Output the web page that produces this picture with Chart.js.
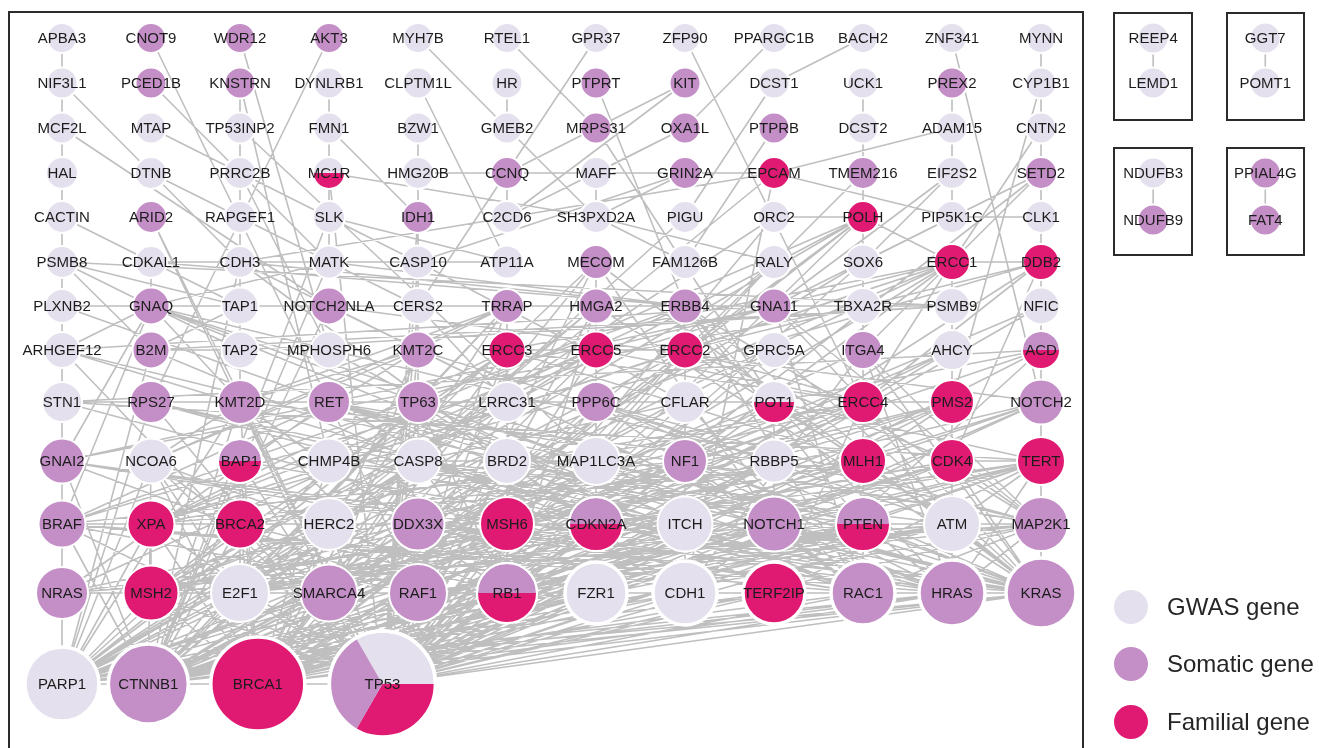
<!DOCTYPE html>
<html lang="en">
<head>
<meta charset="UTF-8">
<title>Gene network</title>
<script src="https://cdn.jsdelivr.net/npm/chart.js"></script>
<style>
    html, body { margin: 0; padding: 0; background: #fff; }
    .wrap { position: relative; width: 1319px; height: 748px; }
</style>
</head>
<body>
<div class="wrap"><canvas id="rede"></canvas></div>
<script>
    // genes, row by row (grid layout, sorted by degree)
    const geneRows = [
        ['APBA3','CNOT9','WDR12','AKT3','MYH7B','RTEL1','GPR37','ZFP90','PPARGC1B','BACH2','ZNF341','MYNN'],
        ['NIF3L1','PCED1B','KNSTRN','DYNLRB1','CLPTM1L','HR','PTPRT','KIT','DCST1','UCK1','PREX2','CYP1B1'],
        ['MCF2L','MTAP','TP53INP2','FMN1','BZW1','GMEB2','MRPS31','OXA1L','PTPRB','DCST2','ADAM15','CNTN2'],
        ['HAL','DTNB','PRRC2B','MC1R','HMG20B','CCNQ','MAFF','GRIN2A','EPCAM','TMEM216','EIF2S2','SETD2'],
        ['CACTIN','ARID2','RAPGEF1','SLK','IDH1','C2CD6','SH3PXD2A','PIGU','ORC2','POLH','PIP5K1C','CLK1'],
        ['PSMB8','CDKAL1','CDH3','MATK','CASP10','ATP11A','MECOM','FAM126B','RALY','SOX6','ERCC1','DDB2'],
        ['PLXNB2','GNAQ','TAP1','NOTCH2NLA','CERS2','TRRAP','HMGA2','ERBB4','GNA11','TBXA2R','PSMB9','NFIC'],
        ['ARHGEF12','B2M','TAP2','MPHOSPH6','KMT2C','ERCC3','ERCC5','ERCC2','GPRC5A','ITGA4','AHCY','ACD'],
        ['STN1','RPS27','KMT2D','RET','TP63','LRRC31','PPP6C','CFLAR','POT1','ERCC4','PMS2','NOTCH2'],
        ['GNAI2','NCOA6','BAP1','CHMP4B','CASP8','BRD2','MAP1LC3A','NF1','RBBP5','MLH1','CDK4','TERT'],
        ['BRAF','XPA','BRCA2','HERC2','DDX3X','MSH6','CDKN2A','ITCH','NOTCH1','PTEN','ATM','MAP2K1'],
        ['NRAS','MSH2','E2F1','SMARCA4','RAF1','RB1','FZR1','CDH1','TERF2IP','RAC1','HRAS','KRAS'],
        ['PARP1','CTNNB1','BRCA1','TP53']
    ];

    // G = GWAS, S = somatic, F = familial; combined codes are split nodes
    const geneTypes = [
        ['G','S','S','S','G','G','G','G','G','G','G','G'],
        ['G','S','S','G','G','G','S','S','G','G','S','G'],
        ['G','G','G','G','G','G','S','S','S','G','G','G'],
        ['G','G','G','GF','G','S','G','S','F','S','G','S'],
        ['G','S','G','G','S','G','G','G','G','F','G','G'],
        ['G','G','G','G','G','G','S','G','G','G','F','F'],
        ['G','S','G','S','G','S','S','S','S','G','G','G'],
        ['G','S','G','G','S','F','F','F','G','S','G','SF'],
        ['G','S','S','S','S','G','S','G','GF','F','F','S'],
        ['S','G','SF','G','G','G','G','S','G','F','F','F'],
        ['S','F','F','G','S','F','SF','G','S','SF','G','S'],
        ['S','F','G','S','S','SF','G','G','F','S','S','S'],
        ['G','S','F','GSF']
    ];

    // node size (degree) per gene
    const nodeSize = [
        [15,15,15,15,15,15,15,15,15,15,15,15],
        [15.5,15.5,15.5,15.5,15.5,15.5,15.5,15.5,15.5,15.5,15.5,15.5],
        [15.5,15.5,15.5,15.5,15.5,15.5,15.5,15.5,15.5,15.5,15.5,15.5],
        [16,16,16,16,16,16,16,16,16,16,16,16],
        [16,16,16,16,16,16,16,16,16,16,16,16],
        [16,16,16,16.5,16.5,16.5,17,17,17,17.5,18,18],
        [17,18.5,18.5,18.5,18,17,17.5,17.5,17.5,18,18,18.5],
        [18,18.5,18.5,18.5,18.5,18.5,18.5,18.5,18,19,20,19],
        [20,21,22,21,21,20,20,21,21,21,22,22.5],
        [22.5,22.5,22,22.5,22.5,23,24,22,21.5,23,22,24],
        [23.5,23.5,24.5,26,26.5,27,27,27.5,27.5,27,28,27],
        [26,27.5,29,28.5,29,30,31,32,31,32,33,35],
        [37,40,47,53]
    ];

    // separate small components
    const sideGenes = ['REEP4','LEMD1','GGT7','POMT1','NDUFB3','NDUFB9','PPIAL4G','FAT4'];
    const sideTypes = ['G','G','G','G','G','S','S','S'];

    const legendLabels = ['GWAS gene', 'Somatic gene', 'Familial gene'];

    // interactions: gene: neighbours
    const links = `
APBA3: NIF3L1
NIF3L1: MCF2L CDH3
MCF2L: HAL NOTCH2NLA
HAL: CACTIN
CACTIN: PSMB8 TAP1
PSMB8: PLXNB2 TAP1 TAP2 PSMB9 B2M
PLXNB2: ARHGEF12 RAC1 ERBB4 GNAQ
ARHGEF12: STN1 GNA11 GNAQ RAC1 KRAS TP53
STN1: GNAI2 POT1 ACD TERF2IP TERT PARP1
GNAI2: BRAF GNAQ GNA11 KRAS HRAS RAC1 RAF1 CTNNB1 TBXA2R PARP1
BRAF: NRAS MAP2K1 KRAS HRAS RAF1 RAC1 CDKN2A PTEN TP53 CTNNB1 XPA
NRAS: PARP1 KRAS HRAS RAF1 MAP2K1 RAC1 PTEN
CNOT9: RET
WDR12: MPHOSPH6
AKT3: RPS27
MYH7B: GMEB2
RTEL1: MRPS31
GPR37: CERS2
ZFP90: ERCC4
PPARGC1B: OXA1L
BACH2: DCST1
ZNF341: NOTCH2
MYNN: CYP1B1
PCED1B: MATK
KNSTRN: CHMP4B TAP2
DYNLRB1: FMN1
CLPTM1L: ATP11A
HR: GMEB2
PTPRT: ERBB4
KIT: CCNQ C2CD6
DCST1: PIGU
UCK1: DCST2
PREX2: ADAM15
CYP1B1: CNTN2 PMS2
MTAP: CASP10
TP53INP2: MAP1LC3A
FMN1: MC1R IDH1
BZW1: HMG20B
GMEB2: SH3PXD2A
MRPS31: POT1
OXA1L: MAFF C2CD6
PTPRB: FAM126B
DCST2: ITGA4
ADAM15: EIF2S2 EPCAM
CNTN2: SETD2 ERCC1
DTNB: CERS2
PRRC2B: MPHOSPH6
MC1R: SLK SH3PXD2A TP53
HMG20B: CERS2
CCNQ: C2CD6
MAFF: SH3PXD2A
GRIN2A: SH3PXD2A CASP10
EPCAM: HMG20B CTNNB1 CDH1 CDH3
TMEM216: RALY
EIF2S2: PIP5K1C SOX6 GNA11
SETD2: CLK1 SOX6 GNA11 ITGA4 TP53
ARID2: SMARCA4 TP53
RAPGEF1: CDH3 KMT2D
SLK: MATK ATP11A CTNNB1
IDH1: CASP10 TP53
SH3PXD2A: FAM126B RALY
PIGU: CASP8
ORC2: POLH PARP1 TP53
POLH: ERCC1 XPA ERCC2 MLH1 MSH2 TP53 BRCA1 PARP1
PIP5K1C: CLK1 EPCAM
CLK1: DDB2
CDKAL1: GNAQ MATK ERBB4
CDH3: TAP1 CTNNB1 CDH1 NOTCH1 ERBB4
MATK: CASP10 ERBB4 GNAQ CTNNB1
CASP10: CASP8 CFLAR TP53 ATP11A
MECOM: CTNNB1 TP53 NOTCH1 HMGA2 SMARCA4 KRAS
RALY: TP53 BRCA1 ERCC2
SOX6: CTNNB1 TP53
ERCC1: ERCC4 XPA ERCC2 ERCC3 ERCC5 DDB2 PARP1 BRCA1 TP53 PMS2 MSH2
DDB2: ERCC2 XPA TP53 ERCC4 CDK4 NFIC
GNAQ: GNA11 RAC1 MAP2K1 KRAS BRAF RAF1 HRAS
TAP1: TAP2 B2M PSMB9
NOTCH2NLA: NOTCH2 NOTCH1 CTNNB1
CERS2: LRRC31 TP53
TRRAP: TP53 BRCA1 KMT2C KMT2D BRD2 E2F1 CTNNB1 NCOA6
HMGA2: CTNNB1 TP53 E2F1 RB1 CDKN2A KRAS
ERBB4: KRAS HRAS NRAS BRAF PTEN MAP2K1 RAC1 ITCH
GNA11: RAC1 MAP2K1 KRAS BRAF TBXA2R
TBXA2R: GNAQ RAC1
PSMB9: TAP2 B2M
NFIC: TP53 CTNNB1 TERT ACD
B2M: TAP2 CASP8 PARP1
MPHOSPH6: TERF2IP
KMT2C: KMT2D TP53 NCOA6 BAP1 BRCA1 SMARCA4 RBBP5
ERCC3: XPA ERCC2 ERCC5 ERCC4 TP53 BRCA1 PARP1 MSH2 MLH1
ERCC5: ERCC2 XPA ERCC4 TP53 BRCA1 PARP1 MSH2
ERCC2: XPA ERCC4 TP53 BRCA1 PARP1 MSH6 MLH1 CDK4
GPRC5A: TP53 KRAS CTNNB1
ITGA4: RAC1 KRAS HRAS CDH1 CTNNB1 MAP2K1 PTEN
AHCY: TP53 CTNNB1 BRCA1
ACD: POT1 TERF2IP TERT TP53 PARP1 NOTCH2
RPS27: TP53 HRAS KRAS CDKN2A PARP1
KMT2D: TP53 NCOA6 BRCA1 CTNNB1 SMARCA4 RB1 PARP1
RET: KRAS HRAS NRAS BRAF PTEN RAF1 MAP2K1 RAC1 CDH1
TP63: TP53 BRCA1 CTNNB1 ITCH NOTCH1 E2F1 RB1 CDKN2A PARP1
LRRC31: TP53 BRCA1
PPP6C: TP53 BRCA1 ATM MAP2K1 KRAS RAC1
CFLAR: CASP8 ITCH TP53 RAC1 CTNNB1
POT1: TERF2IP TERT ATM PARP1 BRCA1 TP53
ERCC4: XPA MSH2 BRCA1 PARP1 TP53 TERF2IP MLH1 PMS2 MSH6 BRCA2 ATM
PMS2: MLH1 MSH2 MSH6 BRCA1 TP53 PARP1 ATM CDK4
NOTCH2: NOTCH1 CTNNB1 TP53 ITCH KRAS E2F1 TERT
NCOA6: TP53 BRCA1 CTNNB1 E2F1 RB1 SMARCA4 PARP1
BAP1: BRCA1 TP53 CTNNB1 E2F1 CDKN2A BRCA2
CHMP4B: ITCH BRCA1 CTNNB1 PTEN MAP1LC3A
CASP8: TP53 BRCA1 CTNNB1 RB1 ITCH ATM RAC1 E2F1 CDKN2A
BRD2: TP53 BRCA1 E2F1 RB1 CTNNB1 SMARCA4 KRAS
MAP1LC3A: TP53 BRCA1 CTNNB1 PTEN
NF1: KRAS HRAS NRAS RAF1 BRAF MAP2K1 PTEN RAC1 TP53 CTNNB1
RBBP5: KMT2D TP53 BRCA1 E2F1 RB1
MLH1: MSH2 MSH6 BRCA1 TP53 PARP1 ATM BRCA2 XPA PTEN
CDK4: CDKN2A RB1 E2F1 TP53 BRCA1 CTNNB1 KRAS HRAS MAP2K1 TERT
TERT: TP53 CTNNB1 TERF2IP BRCA1 PARP1 ATM RB1 E2F1 KRAS HRAS MAP2K1 CDKN2A PTEN
XPA: MSH2 BRCA1 PARP1 TP53 ATM HERC2 BRCA2
BRCA2: BRCA1 TP53 PARP1 ATM MSH2 MSH6 RB1 E2F1 CTNNB1
HERC2: BRCA1 TP53 ITCH MSH2 CDKN2A PARP1
DDX3X: TP53 CTNNB1 KRAS CDH1 RAC1 BRCA1
MSH6: MSH2 BRCA1 PARP1 TP53 ATM PTEN
CDKN2A: RB1 E2F1 TP53 BRCA1 CTNNB1 KRAS HRAS NRAS PTEN MAP2K1 ATM
ITCH: TP53 NOTCH1 CTNNB1 PTEN BRCA1 CDH1
NOTCH1: CTNNB1 TP53 KRAS HRAS RAC1 CDH1 E2F1 PTEN BRCA1
PTEN: TP53 CTNNB1 KRAS HRAS RAC1 ATM MAP2K1 CDH1 RAF1 PARP1 BRCA1
ATM: TP53 BRCA1 PARP1 MSH2 E2F1 RB1 CTNNB1 KRAS
MAP2K1: KRAS HRAS RAF1 RAC1 TP53 CTNNB1
MSH2: BRCA1 TP53 PARP1 E2F1
E2F1: TP53 RB1 BRCA1 CTNNB1 PARP1 KRAS
SMARCA4: TP53 BRCA1 CTNNB1 RB1 KRAS
RAF1: KRAS HRAS RAC1 TP53 CTNNB1
RB1: TP53 BRCA1 CTNNB1 KRAS HRAS
FZR1: TP53 BRCA1 CTNNB1 CDH1 RB1
CDH1: CTNNB1 TP53 KRAS RAC1 HRAS BRCA1
TERF2IP: TP53 BRCA1 KRAS HRAS RAC1 PARP1
RAC1: KRAS HRAS CTNNB1 TP53
HRAS: KRAS CTNNB1 TP53 BRCA1 PARP1
KRAS: TP53 CTNNB1 BRCA1 PARP1
PARP1: CTNNB1 BRCA1 TP53
CTNNB1: BRCA1 TP53
BRCA1: TP53
REEP4: LEMD1
GGT7: POMT1
NDUFB3: NDUFB9
PPIAL4G: FAT4
`;

    // ---- layout (pixels of the 1319x748 picture) ----
    const COL_STEP = 89, COL0 = 62;
    const ROW_Y = [38, 83, 128, 173, 217, 262, 306, 350, 402, 461, 524, 593, 684];
    const BOTTOM_COLS = [0, 0.97, 2.2, 3.6];
    const SIDE_COLS = [12.26, 12.26, 13.52, 13.52, 12.26, 12.26, 13.52, 13.52];
    const SIDE_Y = [38, 83, 38, 83, 173, 220, 173, 220];

    const COLORS = { G: '#e5e0ed', S: '#c48fc7', F: '#e01a72' };

    // build nodes
    const nodes = [];
    geneRows.forEach((row, r) => {
        row.forEach((name, c) => {
            nodes.push({
                x: r === 12 ? BOTTOM_COLS[c] : c,
                y: ROW_Y[r],
                r: nodeSize[r][c],
                name: name,
                type: geneTypes[r][c]
            });
        });
    });
    sideGenes.forEach((name, i) => {
        nodes.push({ x: SIDE_COLS[i], y: SIDE_Y[i], r: 15.5, name: name, type: sideTypes[i] });
    });
    const porNome = {};
    nodes.forEach(n => { porNome[n.name] = n; });

    // parse edges
    const edges = [];
    const vistos = new Set();
    links.trim().split('\n').forEach(linha => {
        const partes = linha.split(':');
        const src = partes[0].trim();
        partes[1].trim().split(/\s+/).filter(Boolean).forEach(dst => {
            const k = [src, dst].sort().join('|');
            if (!vistos.has(k) && porNome[src] && porNome[dst]) {
                vistos.add(k);
                edges.push([src, dst]);
            }
        });
    });

    const baseDe = t => t.charAt(0);
    const grupos = ['G', 'S', 'F'].map(g => nodes.filter(n => baseDe(n.type) === g));

    const bordaLarg = ctx => (ctx.raw && ctx.raw.r > 30 ? 3.5 : 2);

    const pluginRede = {
        id: 'rede',
        beforeDatasetsDraw(chart) {
            const ctx = chart.ctx, xs = chart.scales.x, ys = chart.scales.y;
            ctx.save();
            // frames
            ctx.strokeStyle = '#2b2b2b';
            ctx.lineWidth = 2;
            ctx.strokeRect(9, 12, 1074, 760);
            [[1114, 13, 78, 107], [1227, 13, 77, 107], [1114, 148, 78, 107], [1227, 148, 77, 107]]
                .forEach(b => ctx.strokeRect(b[0], b[1], b[2], b[3]));
            // edges
            ctx.beginPath();
            edges.forEach(([a, b]) => {
                const p = porNome[a], q = porNome[b];
                ctx.moveTo(xs.getPixelForValue(p.x), ys.getPixelForValue(p.y));
                ctx.lineTo(xs.getPixelForValue(q.x), ys.getPixelForValue(q.y));
            });
            ctx.strokeStyle = '#bfbfbf';
            ctx.lineWidth = 1.6;
            ctx.stroke();
            ctx.restore();
        },
        afterDatasetsDraw(chart) {
            const ctx = chart.ctx, xs = chart.scales.x, ys = chart.scales.y;
            ctx.save();
            // split nodes
            nodes.filter(n => n.type.length > 1).forEach(n => {
                const px = xs.getPixelForValue(n.x), py = ys.getPixelForValue(n.y);
                const fatias = n.type === 'GSF'
                    ? [['F', 0, 2 * Math.PI / 3], ['S', 2 * Math.PI / 3, 4 * Math.PI / 3]]
                    : [['F', 0, Math.PI]];
                fatias.forEach(([c, a0, a1]) => {
                    ctx.beginPath();
                    ctx.moveTo(px, py);
                    ctx.arc(px, py, n.r, a0, a1);
                    ctx.closePath();
                    ctx.fillStyle = COLORS[c];
                    ctx.fill();
                });
                ctx.beginPath();
                ctx.arc(px, py, n.r, 0, Math.PI * 2);
                ctx.strokeStyle = '#ffffff';
                ctx.lineWidth = n.r > 30 ? 3.5 : 2;
                ctx.stroke();
            });
            // labels
            ctx.fillStyle = '#1c1c1c';
            ctx.textAlign = 'center';
            ctx.textBaseline = 'middle';
            ctx.font = '15px "Liberation Sans", Arial, sans-serif';
            nodes.forEach(n => {
                ctx.fillText(n.name, xs.getPixelForValue(n.x), ys.getPixelForValue(n.y) + 1);
            });
            // legend
            const legY = [607, 664, 722];
            ['G', 'S', 'F'].forEach((g, i) => {
                ctx.beginPath();
                ctx.arc(1131, legY[i], 17, 0, Math.PI * 2);
                ctx.fillStyle = COLORS[g];
                ctx.fill();
                ctx.fillStyle = '#262626';
                ctx.textAlign = 'left';
                ctx.font = '24px "Liberation Sans", Arial, sans-serif';
                ctx.fillText(legendLabels[i], 1167, legY[i] + 1);
            });
            ctx.restore();
        }
    };

    new Chart(document.getElementById('rede'), {
        type: 'bubble',
        data: {
            datasets: grupos.map((g, i) => ({
                label: legendLabels[i],
                data: g,
                backgroundColor: COLORS[['G', 'S', 'F'][i]],
                borderColor: '#ffffff',
                borderWidth: bordaLarg,
                hoverRadius: 0,
                clip: false
            }))
        },
        options: {
            responsive: true,
            maintainAspectRatio: false,
            animation: false,
            events: [],
            layout: { padding: 0, autoPadding: false },
            plugins: { legend: { display: false }, tooltip: { enabled: false } },
            scales: {
                x: { type: 'linear', display: false, min: -COL0 / COL_STEP, max: (1319 - COL0) / COL_STEP },
                y: { type: 'linear', display: false, min: 0, max: 748, reverse: true }
            }
        },
        plugins: [pluginRede]
    });
</script>
</body>
</html>
